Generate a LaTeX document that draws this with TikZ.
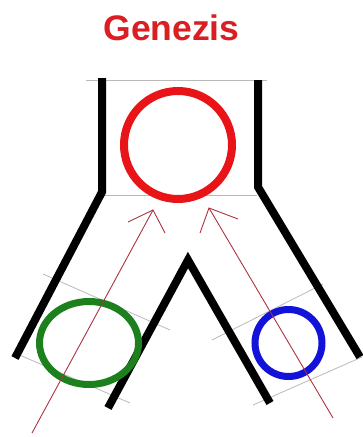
\documentclass[tikz,border=0pt]{standalone}
\usepackage{fontspec}
\setmainfont{Liberation Sans}
\usetikzlibrary{shapes.geometric}
\definecolor{titlered}{RGB}{218,30,34}
\definecolor{ringred}{RGB}{232,20,24}
\definecolor{ringgreen}{RGB}{28,128,28}
\definecolor{ringblue}{RGB}{18,18,216}
\definecolor{arrowred}{RGB}{170,52,64}
\definecolor{guide}{RGB}{185,185,185}
\tikzset{
  wall/.style={line width=8pt, black, line join=miter},
  guideline/.style={line width=0.8pt, guide},
  ring/.style={draw, line width=8pt, inner sep=0pt, outer sep=0pt},
  flow/.style={line width=0.9pt, arrowred},
}
\begin{document}
\begin{tikzpicture}[x=1pt,y=-1pt]
\useasboundingbox (0,0) rectangle (362,437);
% title
\node[font=\bfseries\fontsize{35.5}{40}\selectfont, text=titlered, anchor=base] (title) at (171.5,40) {Genezis};
% guide lines
\draw[guideline] (86,80) -- (267,80);
\draw[guideline] (100,195) -- (257,195);
\draw[guideline] (43,274) -- (170,330);
\draw[guideline] (15,353) -- (130,403);
\draw[guideline] (212,340) -- (323,284);
\draw[guideline] (253,405) -- (362,357);
% walls
\draw[wall] (102,78) -- (102,192) -- (15,358);
\draw[wall] (258,80) -- (258,187) -- (360,357);
\draw[wall] (108,408) -- (188,260) -- (270,403);
% rings
\node[ring, circle, draw=ringred, minimum size=108pt] (top) at (178,145) {};
\node[ring, ellipse, draw=ringgreen, line width=7pt, minimum width=99pt, minimum height=83pt] (left) at (89,343) {};
\node[ring, circle, draw=ringblue, line width=7pt, minimum size=67pt] (right) at (288.5,343) {};
% flows
\coordinate (lstart) at (32,433);
\coordinate (lend) at (153,210);
\coordinate (lbarbA) at (128,222);
\coordinate (lbarbB) at (165,233);
\coordinate (rstart) at (333,418);
\coordinate (rend) at (209,208);
\coordinate (rbarbA) at (200,233);
\coordinate (rbarbB) at (238,219);
\draw[flow] (lstart) -- (lend);
\draw[flow] (lbarbA) -- (lend) -- (lbarbB);
\draw[flow] (rstart) -- (rend);
\draw[flow] (rbarbA) -- (rend) -- (rbarbB);
\end{tikzpicture}
\end{document}
